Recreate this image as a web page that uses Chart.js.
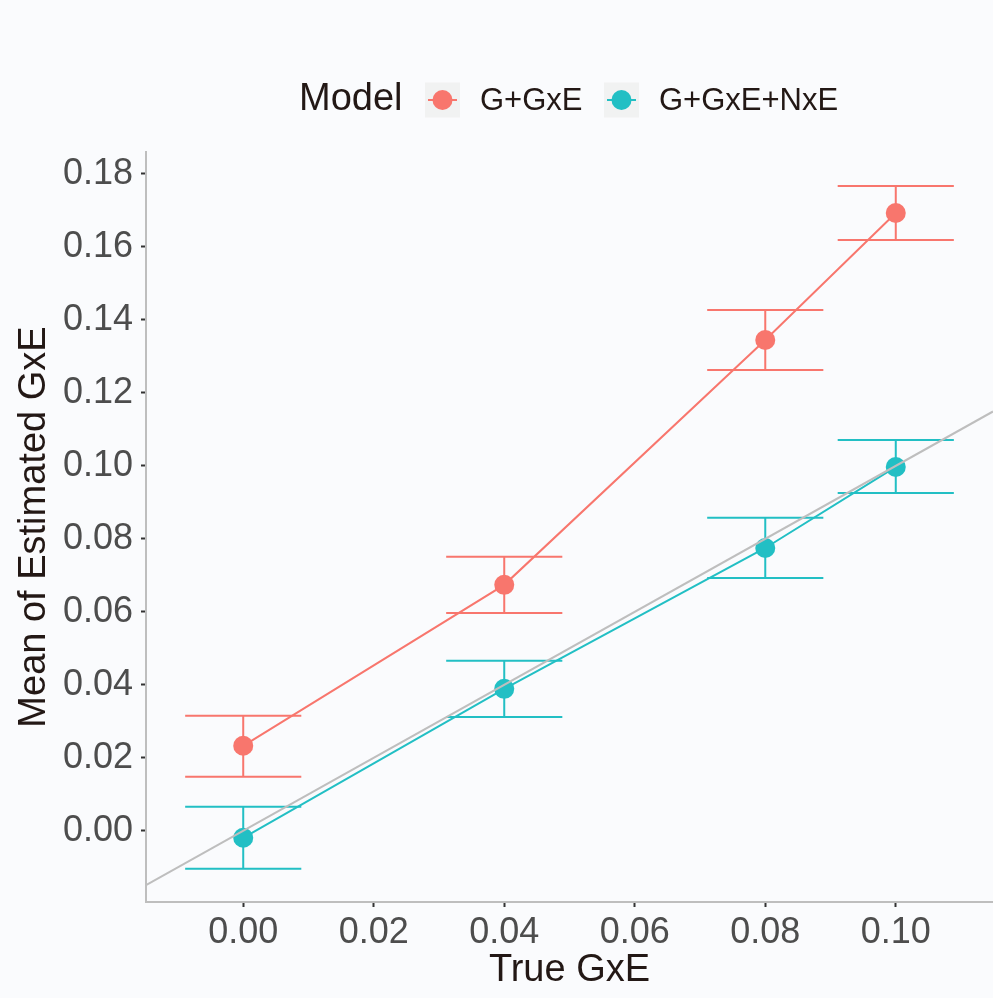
<!DOCTYPE html>
<html>
<head>
<meta charset="utf-8">
<script src="https://cdn.jsdelivr.net/npm/chart.js@4.4.1/dist/chart.umd.min.js"></script>
<style>
  html, body { margin: 0; padding: 0; background: #fafbfd; }
  canvas { display: block; }
</style>
</head>
<body>
<canvas id="gxe" width="993" height="998"></canvas>
<script>
// simulation summary: true GxE vs mean estimate with interval bounds
var trueGxE = [0, 0.04, 0.08, 0.10];

var meanGGxE  = [0.0233, 0.0674, 0.1345, 0.1693];
var lowerGGxE = [0.0148, 0.0597, 0.1263, 0.1619];
var upperGGxE = [0.0315, 0.0751, 0.1427, 0.1767];

var meanGGxENxE  = [-0.0019, 0.0389, 0.0775, 0.0997];
var lowerGGxENxE = [-0.0104, 0.0312, 0.0693, 0.0926];
var upperGGxENxE = [0.0066, 0.0466, 0.0858, 0.1071];

var modelNames = ['G+GxE', 'G+GxE+NxE'];
var xTicks = [0, 0.02, 0.04, 0.06, 0.08, 0.10];
var yTicks = [0, 0.02, 0.04, 0.06, 0.08, 0.10, 0.12, 0.14, 0.16, 0.18];

var xMin = -0.0149, xMax = 0.1149;
var yMin = -0.0195, yMax = 0.186;

var RED = '#F8766D', TEAL = '#22BFC4';
var TEXT = '#231815', TICK_TEXT = '#4d4d4d';
var errHalf = 0.0089; // half width of the error bar caps, in x units

function pts(xs, ys) {
  return xs.map(function(x, i){ return {x: x, y: ys[i]}; });
}

var errorBars = {
  id: 'errorBars',
  beforeDatasetsDraw: function(chart) {
    var xs = chart.scales.x, ys = chart.scales.y, c = chart.ctx;
    var groups = [
      {lo: lowerGGxE, hi: upperGGxE, color: RED},
      {lo: lowerGGxENxE, hi: upperGGxENxE, color: TEAL}
    ];
    c.save();
    c.lineWidth = 2;
    groups.forEach(function(g){
      c.strokeStyle = g.color;
      trueGxE.forEach(function(x, i){
        var px = xs.getPixelForValue(x);
        var l = xs.getPixelForValue(x - errHalf), r = xs.getPixelForValue(x + errHalf);
        var top = ys.getPixelForValue(g.hi[i]), bot = ys.getPixelForValue(g.lo[i]);
        c.beginPath();
        c.moveTo(px, top); c.lineTo(px, bot);
        c.moveTo(l, top); c.lineTo(r, top);
        c.moveTo(l, bot); c.lineTo(r, bot);
        c.stroke();
      });
    });
    c.restore();
  }
};

var modelLegend = {
  id: 'modelLegend',
  afterDraw: function(chart) {
    var c = chart.ctx, cy = 100;
    c.save();
    c.textBaseline = 'middle';
    c.fillStyle = TEXT;
    c.font = '38px "Liberation Sans", Arial, sans-serif';
    c.fillText('Model', 299, cy);
    var keys = [{x: 425, label: modelNames[0], color: RED}, {x: 604, label: modelNames[1], color: TEAL}];
    keys.forEach(function(k){
      c.fillStyle = '#f1f2f2';
      c.fillRect(k.x, cy - 17.5, 35, 35);
      c.strokeStyle = k.color;
      c.lineWidth = 2;
      c.beginPath();
      c.moveTo(k.x + 3, cy); c.lineTo(k.x + 32, cy);
      c.stroke();
      c.fillStyle = k.color;
      c.beginPath();
      c.arc(k.x + 17.5, cy, 10, 0, Math.PI * 2);
      c.fill();
      c.fillStyle = TEXT;
      c.font = '31px "Liberation Sans", Arial, sans-serif';
      c.fillText(k.label, k.x + 55, cy + 1);
    });
    c.restore();
  }
};

function fixedTicks(list) {
  return function(scale){ scale.ticks = list.map(function(v){ return {value: v}; }); };
}

var ctx = document.getElementById('gxe').getContext('2d');
var chart = new Chart(ctx, {
  type: 'scatter',
  data: {
    datasets: [{
      label: 'identity',
      data: [{x: xMin, y: xMin}, {x: xMax, y: xMax}],
      showLine: true,
      borderColor: '#bebebe',
      borderWidth: 2,
      pointRadius: 0,
      order: 0
    }, {
      label: modelNames[0],
      data: pts(trueGxE, meanGGxE),
      showLine: true,
      borderColor: RED,
      backgroundColor: RED,
      borderWidth: 2,
      pointRadius: 10,
      pointBorderWidth: 0,
      order: 1
    }, {
      label: modelNames[1],
      data: pts(trueGxE, meanGGxENxE),
      showLine: true,
      borderColor: TEAL,
      backgroundColor: TEAL,
      borderWidth: 2,
      pointRadius: 10,
      pointBorderWidth: 0,
      order: 2
    }]
  },
  options: {
    responsive: false,
    animation: false,
    events: [],
    layout: { autoPadding: false, padding: { top: 152, right: 0, left: 0, bottom: 0 } },
    plugins: {
      legend: { display: false },
      tooltip: { enabled: false }
    },
    scales: {
      x: {
        type: 'linear',
        min: xMin,
        max: xMax,
        afterBuildTicks: fixedTicks(xTicks),
        afterFit: function(scale){
          scale.height = 96;
          scale.paddingLeft = 0;
          scale.paddingRight = 0;
        },
        grid: { drawOnChartArea: false, drawTicks: true, tickLength: 5, tickWidth: 2, color: '#333333' },
        border: { color: '#bebebe', width: 2 },
        ticks: {
          color: TICK_TEXT,
          padding: 4,
          font: { size: 36, family: '"Liberation Sans", Arial, sans-serif' },
          callback: function(v){ return v.toFixed(2); }
        },
        title: {
          display: true,
          text: 'True GxE',
          color: TEXT,
          padding: { top: 0, bottom: 5 },
          font: { size: 38, family: '"Liberation Sans", Arial, sans-serif' }
        }
      },
      y: {
        type: 'linear',
        min: yMin,
        max: yMax,
        afterBuildTicks: fixedTicks(yTicks),
        afterFit: function(scale){
          scale.width = 146;
          scale.paddingTop = 0;
          scale.paddingBottom = 0;
        },
        grid: { drawOnChartArea: false, drawTicks: true, tickLength: 5, tickWidth: 2, color: '#333333' },
        border: { color: '#bebebe', width: 2 },
        ticks: {
          color: TICK_TEXT,
          padding: 8,
          font: { size: 36, family: '"Liberation Sans", Arial, sans-serif' },
          callback: function(v){ return v.toFixed(2); }
        },
        title: {
          display: true,
          text: 'Mean of Estimated GxE',
          color: TEXT,
          padding: { top: 12, bottom: 0 },
          font: { size: 38, family: '"Liberation Sans", Arial, sans-serif' }
        }
      }
    }
  },
  plugins: [errorBars, modelLegend]
});
</script>
</body>
</html>
